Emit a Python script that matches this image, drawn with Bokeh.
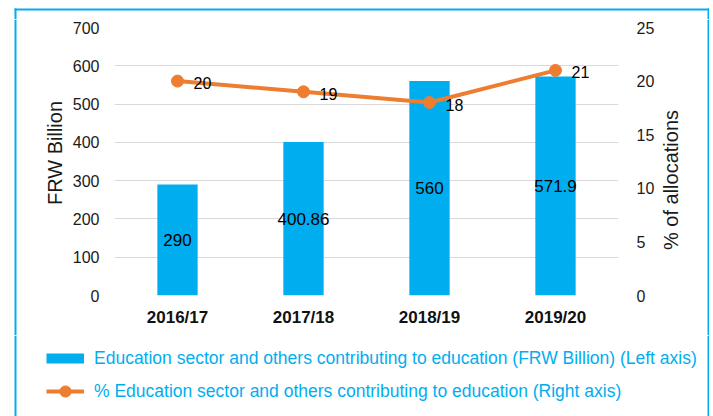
import math
from bokeh.plotting import figure
from bokeh.models import Range1d, LinearAxis, FixedTicker, Legend, LegendItem
from bokeh.layouts import column, row
from bokeh.embed import file_html
from bokeh.resources import INLINE
from bokeh.core.properties import value

# ---- data ----
years = ["2016/17", "2017/18", "2018/19", "2019/20"]
amount_frw_billion = [290, 400.86, 560, 571.9]
pct_allocations = [20, 19, 18, 21]
left_ticks = [0, 100, 200, 300, 400, 500, 600, 700]
right_ticks = [0, 5, 10, 15, 20, 25]
bar_series_name = "Education sector and others contributing to education (FRW Billion) (Left axis)"
line_series_name = "% Education sector and others contributing to education (Right axis)"
left_title = "FRW Billion"
right_title = "% of allocations"

CYAN = "#00AEEF"
ORANGE = "#ED7D31"
FONT = "Liberation Sans"
TXT = "#1a1a1a"
NAN = float("nan")

# ---- layout sizes (px) ----
TOTAL_W = 709
TOP_H = 19
ROW_H = 316
LEG_H = 81
LEFT_W = 68
RIGHT_W = 49
CHART_W = TOTAL_W - LEFT_W - RIGHT_W
BORDER_X = 14


def strip(w, h):
    f = figure(width=w, height=h, x_range=Range1d(0, w), y_range=Range1d(0, h),
               x_axis_type=None, y_axis_type=None, output_backend="svg",
               toolbar_location=None, min_border=0, min_border_left=0,
               min_border_right=0, min_border_top=0, min_border_bottom=0)
    f.frame_align = False
    f.grid.visible = False
    f.outline_line_color = None
    f.background_fill_color = "white"
    f.border_fill_color = "white"
    return f


# top border strip (border line 8..10 px from page top)
top = strip(TOTAL_W, TOP_H)
top.quad(left=BORDER_X, right=TOTAL_W, bottom=TOP_H - 10, top=TOP_H - 8,
         fill_color=CYAN, line_color=None)
top.quad(left=BORDER_X, right=BORDER_X + 2, bottom=0, top=TOP_H - 8, fill_color=CYAN, line_color=None)
top.quad(left=TOTAL_W - 2, right=TOTAL_W, bottom=0, top=TOP_H - 8, fill_color=CYAN, line_color=None)

# left strip: border + left axis title
left = strip(LEFT_W, ROW_H)
left.quad(left=BORDER_X, right=BORDER_X + 2, bottom=0, top=ROW_H, fill_color=CYAN, line_color=None)
left.text(x=[54], y=[182.5], text=[left_title], angle=math.pi / 2, text_align="center",
          text_baseline="middle", text_font=value(FONT), text_font_size="20px", text_color=TXT)

# right strip: right axis title + border
rght = strip(RIGHT_W, ROW_H)
rght.quad(left=RIGHT_W - 2, right=RIGHT_W, bottom=0, top=ROW_H, fill_color=CYAN, line_color=None)
rght.text(x=[10], y=[155.5], text=[right_title], angle=math.pi / 2, text_align="center",
          text_baseline="middle", text_font=value(FONT), text_font_size="20px", text_color=TXT)

# main chart
p = figure(x_range=years, y_range=Range1d(0, 700), width=CHART_W, height=ROW_H,
           output_backend="svg", toolbar_location=None,
           min_border_left=46, min_border_right=42, min_border_top=8, min_border_bottom=40)
p.frame_align = False
p.outline_line_color = None
p.background_fill_color = "white"
p.border_fill_color = "white"
p.extra_y_ranges = {"pct": Range1d(0, 25)}

bars = p.vbar(x=years, top=amount_frw_billion, width=0.32, fill_color=CYAN, line_color=None)
p.text(x=years, y=[v / 2 for v in amount_frw_billion], text=[f"{v:g}" for v in amount_frw_billion],
       text_align="center", text_baseline="middle", text_font=value(FONT),
       text_font_size="17px", text_color="black")

p.line(x=years, y=pct_allocations, y_range_name="pct", line_color=ORANGE, line_width=4)
p.scatter(x=years, y=pct_allocations, y_range_name="pct", size=12,
          fill_color=ORANGE, line_color=ORANGE)
p.text(x=years, y=pct_allocations, y_range_name="pct", text=[str(v) for v in pct_allocations],
       x_offset=16, y_offset=2, text_align="left", text_baseline="middle",
       text_font=value(FONT), text_font_size="16px", text_color="black")

p.xgrid.grid_line_color = None
p.ygrid.grid_line_color = "#D9D9D9"
p.ygrid.grid_line_width = 1
p.yaxis.ticker = FixedTicker(ticks=left_ticks)

right_axis = LinearAxis(y_range_name="pct", ticker=FixedTicker(ticks=right_ticks))
p.add_layout(right_axis, "right")

for ax in [p.yaxis[0], p.xaxis[0], right_axis]:
    ax.axis_line_color = None
    ax.major_tick_line_color = None
    ax.minor_tick_line_color = None
    ax.major_tick_out = 0
    ax.major_tick_in = 0
    ax.major_label_text_font = FONT
    ax.major_label_text_color = TXT

p.yaxis[0].major_label_text_font_size = "16px"
p.yaxis[0].major_label_standoff = 15
right_axis.major_label_text_font_size = "16px"
right_axis.major_label_standoff = 18
p.xaxis.major_label_text_font_style = "bold"
p.xaxis.major_label_text_font_size = "17px"
p.xaxis.major_label_text_color = "#111111"
p.xaxis.major_label_standoff = 12

# legend figure (swatches use hidden NaN-valued renderers)
leg = strip(TOTAL_W, LEG_H)
leg.quad(left=BORDER_X, right=BORDER_X + 2, bottom=0, top=LEG_H, fill_color=CYAN, line_color=None)
leg.quad(left=TOTAL_W - 2, right=TOTAL_W, bottom=0, top=LEG_H, fill_color=CYAN, line_color=None)
lb = leg.line(x=[NAN, NAN], y=[NAN, NAN], line_color=CYAN, line_width=10, line_cap="butt")
ll = leg.line(x=[NAN, NAN], y=[NAN, NAN], line_color=ORANGE, line_width=4)
ls = leg.scatter(x=[NAN], y=[NAN], size=12, fill_color=ORANGE, line_color=ORANGE)
legend = Legend(items=[LegendItem(label=bar_series_name, renderers=[lb]),
                       LegendItem(label=line_series_name, renderers=[ll, ls])],
                location=(46, 11), orientation="vertical",
                glyph_width=38, glyph_height=28, label_standoff=10, spacing=5,
                padding=0, margin=0, border_line_color=None, background_fill_alpha=0,
                label_text_font=FONT, label_text_font_size="17.5px", label_text_color=CYAN)
leg.add_layout(legend, "center")

layout = column(top, row(left, p, rght), leg)
open("out.html", "w").write(file_html(layout, INLINE))
